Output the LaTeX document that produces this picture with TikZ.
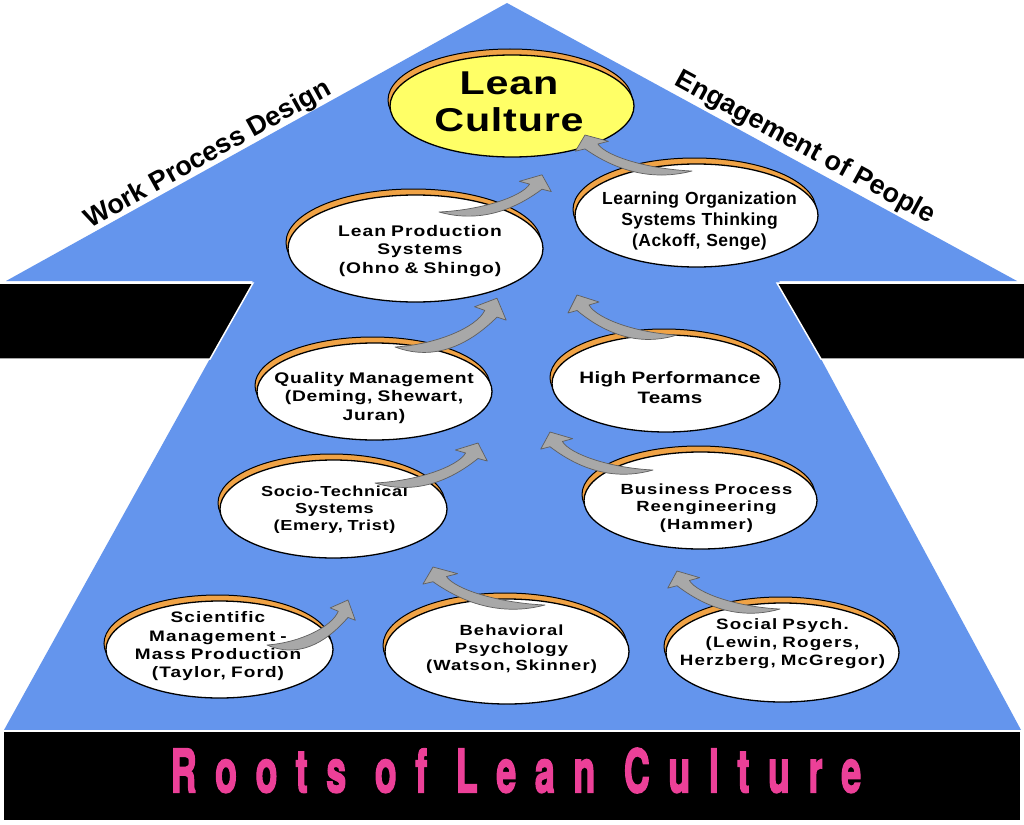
\documentclass[tikz,border=0pt]{standalone}
\usepackage{fontspec}
\usepackage{graphicx}
\usetikzlibrary{shapes.geometric}
\newfontfamily\labfont{Liberation Sans}[FakeStretch=1.25]
\newfontfamily\slofont{Liberation Sans}
\newfontfamily\rootsfont{TeX Gyre Heros}[LetterSpace=52,FakeBold=3]
\definecolor{skyblue}{RGB}{100,149,237}
\definecolor{shadoworange}{RGB}{240,163,70}
\definecolor{leanyellow}{RGB}{255,255,102}
\definecolor{arrowgray}{RGB}{168,168,168}
\definecolor{arrowedge}{RGB}{95,95,95}
\definecolor{rootpink}{RGB}{236,64,152}
\tikzset{
  bubble/.style={ellipse, draw=black, line width=1.3pt, inner sep=0pt},
  bubbleback/.style={ellipse, fill=shadoworange, draw=black, line width=1pt, inner sep=0pt},
  bubbletext/.style={align=center, inner sep=0pt},
  grayarrow/.style={fill=arrowgray, draw=arrowedge, line width=0.7pt, line join=round},
  slogan/.style={font=\slofont\bfseries\fontsize{27}{32}\selectfont, inner sep=0pt},
  bigtitle/.style={inner sep=0pt, font=\labfont\bfseries\fontsize{33}{37}\selectfont\addfontfeature{LetterSpace=2.4}},
  blackbar/.style={fill=black, draw=white, line width=1.5pt},
}
% name, x, y, width, height, fill
\newcommand\bubble[6]{%
  \node[bubbleback, minimum width=#4pt, minimum height=#5pt] (#1-back) at (#2-2,#3-6) {};
  \node[bubble, fill=#6, minimum width=#4pt, minimum height=#5pt] (#1) at (#2,#3) {};
}
% name, x, y, family, size, skip, letterspace, text
\newcommand\btext[8]{%
  \node[bubbletext, text width=240pt, font=#4\bfseries\fontsize{#5}{#6}\selectfont\addfontfeature{LetterSpace=#7}] (#1) at (#2,#3) {#8};
}
% name, tail x, tail y, xscale, yscale
\newcommand\blockarrow[5]{%
  \begin{scope}[shift={(#2,#3)}, xscale=#4, yscale=#5]
    \coordinate (#1) at (0,0);
    \filldraw[grayarrow] (0,0) .. controls (45,14) and (80,-8) .. (100,-24.5)
      -- (109,-22) -- (100,-40) -- (78,-33) -- (88,-30)
      .. controls (80,-16) and (40,-2) .. (0,0) -- cycle;
  \end{scope}
}
\begin{document}
\begin{tikzpicture}[x=1pt,y=-1pt]
\useasboundingbox (0,0) rectangle (1024,824);
\fill[white] (0,0) rectangle (1024,824);
% big arrow body
\fill[skyblue] (507,3) -- (1017,281) -- (779,281) -- (1021,730) -- (4,730) -- (253,281) -- (6,281) -- cycle;
\draw[blackbar] (-2,283) -- (253,283) -- (210,359) -- (-2,359) -- cycle;
\draw[blackbar] (777,283) -- (1026,283) -- (1026,359) -- (821,359) -- cycle;
\draw[blackbar] (3,731) rectangle (1021,821);
% side labels
\node[slogan, rotate=29] (wpd) at (208,155) {Work Process Design};
\node[slogan, rotate=-28.6] (eop) at (805,148) {Engagement of People};
% bubbles
\bubble{lc}{512}{106}{244}{102}{leanyellow}
\bubble{lo}{696.5}{215.5}{243}{103}{white}
\bubble{lp}{415.5}{248.5}{255}{107}{white}
\bubble{qm}{374.5}{391.5}{235}{97}{white}
\bubble{hp}{666}{383.5}{228}{97}{white}
\bubble{st}{333.5}{509}{227}{98}{white}
\bubble{bp}{700.5}{500.5}{233}{97}{white}
\bubble{sm}{219.5}{649.5}{227}{97}{white}
\bubble{bh}{507}{651.5}{244}{105}{white}
\bubble{sp}{782.5}{652.5}{233}{99}{white}
% texts
\node[bigtitle] (lct) at (509,83) {Lean};
\node[bigtitle] (lct2) at (509,120) {Culture};
\btext{lot}{699.5}{221}{\slofont}{17.5}{21}{2.5}{Learning Organization\\Systems Thinking\\(Ackoff, Senge)}
\btext{lpt}{420}{251}{\labfont}{15.4}{18.3}{6.5}{Lean Production\\Systems\\(Ohno \& Shingo)}
\btext{qmt}{374}{398}{\labfont}{15.4}{18.5}{4.9}{Quality Management\\(Deming, Shewart,\\Juran)}
\btext{hpt}{670}{388}{\labfont}{16.5}{20}{1.7}{High Performance\\Teams}
\btext{stt}{334.5}{510}{\labfont}{14.5}{17}{4.6}{Socio-Technical\\Systems\\(Emery, Trist)}
\btext{bpt}{706.5}{508}{\labfont}{14.7}{17.5}{7.1}{Business Process\\Reengineering\\(Hammer)}
\btext{smt}{218}{646.5}{\labfont}{15.2}{18.3}{7.4}{Scientific\\Management -\\Mass Production\\(Taylor, Ford)}
\btext{bht}{511.5}{649.5}{\labfont}{14.7}{17.5}{7.5}{Behavioral\\Psychology\\(Watson, Skinner)}
\btext{spt}{782.5}{644}{\labfont}{15}{18}{7.9}{Social Psych.\\(Lewin, Rogers,\\Herzberg, McGregor)}
% curved arrows
\blockarrow{a1}{267}{645}{0.81}{1.125}
\blockarrow{a2}{375}{483}{1.03}{1.0}
\blockarrow{a3}{395}{347}{1.02}{1.22}
\blockarrow{a4}{439}{212}{1.03}{0.93}
\blockarrow{a5}{692}{171}{-1.07}{0.9}
\blockarrow{a6}{677}{335}{-1.0}{1.0}
\blockarrow{a7}{653}{470}{-1.03}{0.95}
\blockarrow{a8}{780}{609}{-1.03}{0.95}
\blockarrow{a9}{545}{605}{-1.12}{0.95}
% bottom title
\node[inner sep=0pt, text=rootpink] (roots) at (516,770.5) {\scalebox{0.6}[1]{\rootsfont\bfseries\fontsize{59.7}{60}\selectfont Roots of Lean Culture}};
\end{tikzpicture}
\end{document}
